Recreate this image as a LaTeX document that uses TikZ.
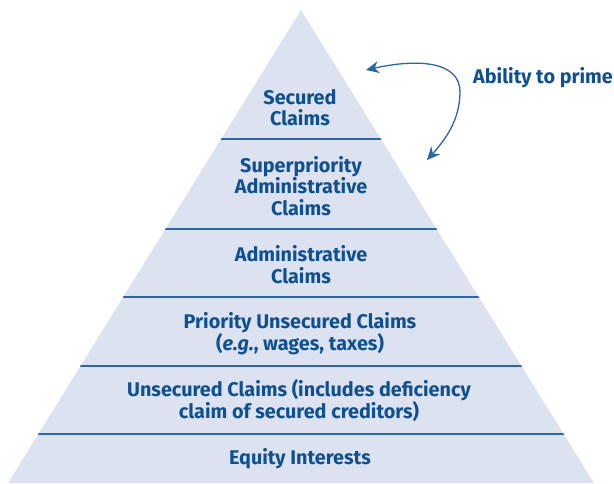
\documentclass[tikz,border=0pt]{standalone}
\usepackage{fontspec}
\setmainfont{Fira Sans}
\usetikzlibrary{arrows.meta}
\definecolor{tierfill}{HTML}{DCE2F0}
\definecolor{tierline}{HTML}{2C66A4}
\definecolor{tiertext}{HTML}{0F5090}
\begin{document}
\begin{tikzpicture}[x=1pt,y=-1pt,
  tierlabel/.style={text=tiertext,font=\fontsize{19.8}{21.5}\selectfont\bfseries,align=center,inner sep=0pt},
  divider/.style={draw=tierline,line width=1.3pt},
  primearrow/.style={draw=tierline,line width=1.3pt,{Stealth[length=13pt,width=12pt]}-{Stealth[length=13pt,width=12pt]}}]
\useasboundingbox (0,0) rectangle (614,483);
% pyramid body
\coordinate (apex) at (301,10);
\coordinate (baseL) at (8,483);
\coordinate (baseR) at (594,483);
\fill[tierfill] (apex) -- (baseR) -- (baseL) -- cycle;
% tier dividers, clipped to the pyramid
\begin{scope}
\clip (apex) -- (baseR) -- (baseL) -- cycle;
\foreach \yy in {139,229,297,366,434}
  \draw[divider] (0,\yy) -- (614,\yy);
\end{scope}
% tier labels
\node[tierlabel] (secured) at (300,107.5) {Secured\\Claims};
\node[tierlabel] (superpriority) at (301,186) {Superpriority\\Administrative\\Claims};
\node[tierlabel] (admin) at (301,264.5) {Administrative\\Claims};
\node[tierlabel] (priority) at (300,333.5) {Priority Unsecured Claims\\(\textit{e.g.}, wages, taxes)};
\node[tierlabel] (unsecured) at (299,400.5) {Unsecured Claims (includes deficiency\\claim of secured creditors)};
\node[tierlabel] (equity) at (300,459) {Equity Interests};
% priming arrow
\node[tierlabel,anchor=west] (prime) at (473,78) {Ability to prime};
\coordinate (primeTop) at (366,70);
\coordinate (primeBot) at (427,160);
\draw[primearrow] (primeTop) .. controls (420,58) and (460,62) .. (460,92)
  .. controls (460,120) and (445,140) .. (primeBot);
\end{tikzpicture}
\end{document}
